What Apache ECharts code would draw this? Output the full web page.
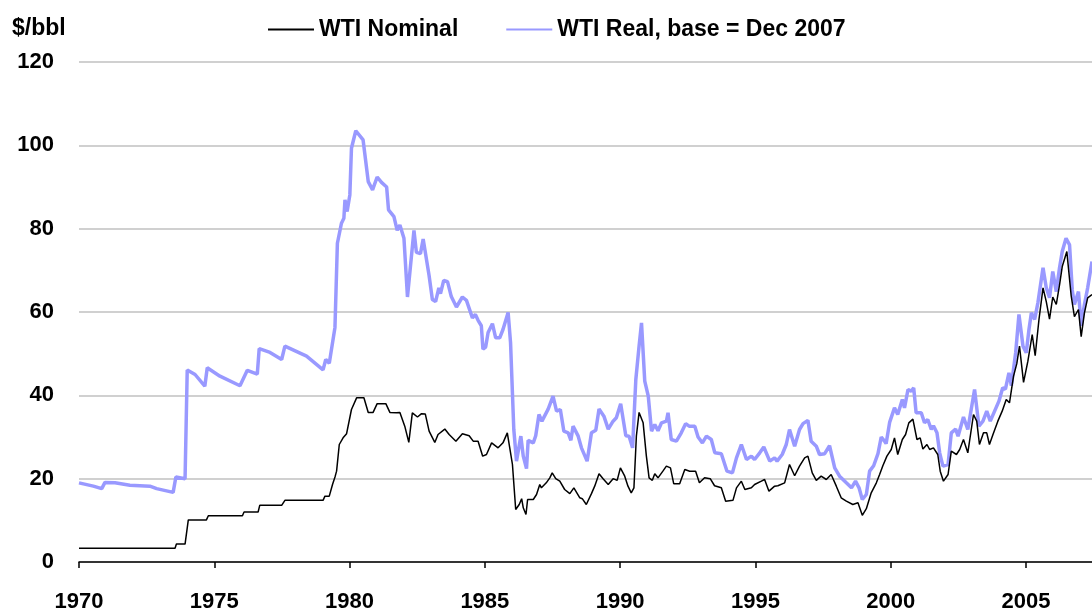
<!DOCTYPE html>
<html>
<head>
<meta charset="utf-8">
<script src="https://cdn.jsdelivr.net/npm/echarts@6/dist/echarts.min.js"></script>
<style>
  html, body { margin: 0; padding: 0; background: #fff; }
  #chart { width: 1092px; height: 613px; }
</style>
</head>
<body>
<div id="chart"></div>
<script>
// values, [decimal year, $/bbl]
const nominalPoints = [
  [1970.00,3.3],[1973.55,3.3],[1973.60,4.3],[1973.92,4.3],[1974.04,10.1],[1974.71,10.1],[1974.78,11.1],
  [1976.04,11.1],[1976.10,12.0],[1976.62,12.0],[1976.68,13.6],[1977.49,13.6],[1977.61,14.8],[1979.02,14.8],
  [1979.09,15.8],[1979.25,15.8],[1979.37,18.6],[1979.47,20.6],[1979.52,21.8],[1979.62,28.2],[1979.76,29.8],
  [1979.89,30.8],[1979.95,30.5],[1980.07,36.6],[1980.26,39.4],[1980.53,39.4],[1980.69,35.9],[1980.87,35.9],
  [1981.02,38.0],[1981.34,38.0],[1981.49,35.9],[1981.73,35.8],[1981.86,35.9],[1982.04,32.6],[1982.19,28.7],
  [1982.32,35.8],[1982.51,34.8],[1982.66,35.6],[1982.80,35.5],[1982.94,31.4],[1983.15,28.7],[1983.27,30.6],
  [1983.52,31.9],[1983.68,30.6],[1983.93,29.0],[1984.17,30.8],[1984.42,30.3],[1984.57,29.0],[1984.75,29.0],
  [1984.92,25.4],[1985.06,25.8],[1985.25,28.6],[1985.49,27.4],[1985.67,28.6],[1985.83,31.0],[1985.92,27.4],
  [1986.02,23.4],[1986.14,12.6],[1986.27,13.8],[1986.36,15.2],[1986.42,13.0],[1986.52,11.4],[1986.58,15.0],
  [1986.79,15.0],[1986.91,16.2],[1987.03,18.6],[1987.09,17.8],[1987.27,19.0],[1987.40,20.2],[1987.49,21.4],
  [1987.62,20.0],[1987.77,19.4],[1987.95,17.4],[1988.14,16.4],[1988.29,17.8],[1988.51,15.4],[1988.60,15.2],
  [1988.75,13.8],[1988.94,16.4],[1989.06,18.2],[1989.22,21.2],[1989.37,20.0],[1989.56,18.6],[1989.74,20.0],
  [1989.89,19.6],[1990.01,22.6],[1990.17,20.6],[1990.29,18.2],[1990.41,16.6],[1990.51,17.8],[1990.60,30.2],
  [1990.70,35.9],[1990.85,33.4],[1990.97,25.4],[1991.07,20.2],[1991.19,19.6],[1991.28,21.2],[1991.40,20.2],
  [1991.58,21.8],[1991.71,23.0],[1991.86,22.6],[1991.98,18.8],[1992.20,18.8],[1992.39,22.2],[1992.57,21.8],
  [1992.79,21.8],[1992.93,19.0],[1993.12,20.2],[1993.33,20.0],[1993.49,18.3],[1993.74,17.8],[1993.90,14.6],
  [1994.17,14.8],[1994.30,17.8],[1994.48,19.4],[1994.61,17.4],[1994.85,17.8],[1994.97,18.6],[1995.22,19.4],
  [1995.34,19.8],[1995.50,17.0],[1995.71,18.2],[1995.83,18.3],[1996.08,19.0],[1996.26,23.4],[1996.45,20.7],
  [1996.63,23.0],[1996.82,25.0],[1996.94,25.4],[1997.10,21.4],[1997.25,19.6],[1997.43,20.6],[1997.62,19.8],
  [1997.80,21.0],[1997.99,18.2],[1998.17,15.4],[1998.36,14.6],[1998.60,13.8],[1998.79,14.2],[1998.95,11.2],
  [1999.10,12.8],[1999.28,16.6],[1999.47,19.0],[1999.59,21.0],[1999.71,23.1],[1999.86,25.4],[2000.02,27.0],
  [2000.14,29.8],[2000.26,25.8],[2000.43,29.4],[2000.55,30.6],[2000.67,33.4],[2000.82,34.3],[2000.97,29.4],
  [2001.09,29.8],[2001.19,27.1],[2001.34,28.2],[2001.44,27.0],[2001.58,27.4],[2001.74,25.8],[2001.83,21.8],
  [2001.95,19.4],[2002.12,21.0],[2002.24,26.6],[2002.43,25.8],[2002.55,27.0],[2002.69,29.4],[2002.85,26.2],
  [2003.06,35.4],[2003.18,33.8],[2003.28,28.2],[2003.43,31.0],[2003.55,31.0],[2003.65,28.2],[2003.78,30.6],
  [2003.96,33.8],[2004.12,36.2],[2004.27,39.0],[2004.39,38.2],[2004.54,44.6],[2004.66,47.6],[2004.76,51.8],
  [2004.91,43.1],[2005.07,48.2],[2005.23,54.6],[2005.34,49.5],[2005.48,58.2],[2005.63,65.8],[2005.75,62.5],
  [2005.87,58.3],[2005.99,63.6],[2006.12,61.8],[2006.24,66.5],[2006.34,70.9],[2006.51,74.5],[2006.67,63.9],
  [2006.79,58.9],[2006.94,60.6],[2007.04,54.1],[2007.16,59.8],[2007.28,63.4],[2007.44,64.2]
];

const realPoints = [
  [1970.00,19.0],[1970.53,18.2],[1970.84,17.6],[1970.96,19.1],[1971.33,19.0],[1971.88,18.4],[1972.62,18.2],
  [1972.87,17.6],[1973.48,16.7],[1973.58,20.4],[1973.92,20.0],[1974.00,46.1],[1974.29,45.0],[1974.65,42.2],
  [1974.74,46.6],[1975.21,44.6],[1975.95,42.3],[1976.22,46.0],[1976.59,45.1],[1976.66,51.2],[1977.06,50.3],
  [1977.49,48.6],[1977.61,51.8],[1978.41,49.4],[1979.02,46.1],[1979.12,48.6],[1979.25,47.7],[1979.46,56.3],
  [1979.55,76.5],[1979.70,81.3],[1979.79,82.5],[1979.83,86.9],[1979.91,84.1],[1980.01,88.1],[1980.07,99.3],
  [1980.23,103.5],[1980.50,101.3],[1980.69,91.3],[1980.85,89.3],[1981.02,92.4],[1981.18,91.1],[1981.37,90.0],
  [1981.44,84.5],[1981.64,82.9],[1981.76,79.6],[1981.86,80.9],[1982.01,77.7],[1982.14,63.6],[1982.38,79.6],
  [1982.47,74.3],[1982.62,74.0],[1982.72,77.5],[1982.94,68.7],[1983.06,63.0],[1983.18,62.5],[1983.30,65.8],
  [1983.36,64.4],[1983.48,67.6],[1983.62,67.3],[1983.76,63.7],[1983.95,61.2],[1984.17,63.6],[1984.32,62.8],
  [1984.54,58.6],[1984.65,59.4],[1984.75,58.0],[1984.87,56.7],[1984.93,51.1],[1985.03,51.6],[1985.12,55.1],
  [1985.28,57.2],[1985.40,53.8],[1985.55,53.8],[1985.67,55.8],[1985.86,59.9],[1985.95,52.6],[1986.07,31.8],
  [1986.17,24.2],[1986.33,30.2],[1986.42,25.4],[1986.54,22.4],[1986.60,29.2],[1986.79,28.6],[1986.88,30.3],
  [1987.00,35.4],[1987.11,33.8],[1987.34,36.7],[1987.52,39.8],[1987.65,36.2],[1987.79,36.6],[1987.92,31.4],
  [1988.08,31.0],[1988.18,29.2],[1988.26,32.6],[1988.45,30.2],[1988.57,27.4],[1988.78,24.2],[1988.94,31.0],
  [1989.10,31.6],[1989.22,36.7],[1989.40,35.0],[1989.56,31.9],[1989.74,33.8],[1989.86,34.6],[1990.02,38.0],
  [1990.21,30.3],[1990.33,30.2],[1990.46,27.4],[1990.58,43.8],[1990.70,51.8],[1990.79,57.4],[1990.91,43.4],
  [1991.04,39.8],[1991.16,31.4],[1991.28,33.0],[1991.40,31.5],[1991.53,33.4],[1991.71,33.8],[1991.77,35.8],
  [1991.89,29.4],[1992.08,29.0],[1992.26,31.0],[1992.42,33.2],[1992.55,32.6],[1992.76,32.6],[1992.88,30.0],
  [1993.04,28.6],[1993.19,30.2],[1993.37,29.4],[1993.50,26.2],[1993.74,26.0],[1993.95,21.8],[1994.15,21.4],
  [1994.30,25.0],[1994.48,28.2],[1994.67,24.6],[1994.85,25.4],[1994.97,24.6],[1995.16,26.2],[1995.31,27.6],
  [1995.53,24.2],[1995.71,25.0],[1995.80,24.2],[1995.99,25.8],[1996.14,28.2],[1996.26,31.8],[1996.45,27.8],
  [1996.63,31.8],[1996.76,33.2],[1996.94,34.0],[1997.06,29.0],[1997.25,27.8],[1997.37,25.8],[1997.56,26.0],
  [1997.74,27.9],[1997.93,22.6],[1998.11,20.6],[1998.36,19.0],[1998.55,17.8],[1998.70,19.4],[1998.83,17.8],
  [1998.95,15.0],[1999.10,16.2],[1999.22,21.8],[1999.37,23.1],[1999.53,26.0],[1999.65,30.0],[1999.77,29.0],
  [1999.83,28.4],[1999.96,33.5],[2000.14,37.0],[2000.26,35.4],[2000.43,39.0],[2000.51,37.0],[2000.64,41.4],
  [2000.76,41.0],[2000.85,41.8],[2000.94,35.8],[2001.13,35.8],[2001.25,33.4],[2001.37,34.2],[2001.50,31.8],
  [2001.58,32.7],[2001.71,31.0],[2001.81,26.2],[2001.93,23.0],[2002.12,23.4],[2002.24,31.0],[2002.40,31.9],
  [2002.49,30.2],[2002.69,34.8],[2002.85,31.8],[2003.10,41.4],[2003.26,32.6],[2003.41,33.8],[2003.55,36.2],
  [2003.68,33.8],[2003.84,36.2],[2004.00,38.6],[2004.14,41.8],[2004.24,41.5],[2004.37,45.4],[2004.46,42.3],
  [2004.62,50.3],[2004.74,59.4],[2004.89,51.8],[2005.01,50.2],[2005.11,55.8],[2005.20,59.8],[2005.32,58.2],
  [2005.44,62.2],[2005.63,70.6],[2005.75,65.8],[2005.87,63.4],[2005.99,69.7],[2006.12,64.9],[2006.24,70.6],
  [2006.34,74.5],[2006.48,77.7],[2006.61,76.1],[2006.71,65.3],[2006.79,61.8],[2006.94,64.9],[2007.04,56.7],
  [2007.16,61.8],[2007.28,65.8],[2007.44,72.1]
];

const seriesNames = ['WTI Nominal', 'WTI Real, base = Dec 2007'];
const unitLabel = '$/bbl';

const font = 'Liberation Sans, Arial, sans-serif';
const chart = echarts.init(document.getElementById('chart'));

chart.setOption({
  animation: false,
  backgroundColor: '#ffffff',
  title: {
    text: unitLabel,
    left: 12,
    top: 17,
    padding: 0,
    textStyle: { fontFamily: font, fontWeight: 'bold', fontSize: 23, color: '#000' }
  },
  legend: {
    left: 267,
    top: 18,
    padding: 0,
    itemWidth: 46,
    itemHeight: 14,
    itemGap: 47,
    // hide the marker dot, keep only the line
    itemStyle: { opacity: 0 },
    textStyle: { fontFamily: font, fontWeight: 'bold', fontSize: 23, color: '#000' },
    data: seriesNames
  },
  grid: {
    left: 79,
    right: 0,
    top: 62,
    bottom: 50
  },
  xAxis: {
    type: 'value',
    min: 1970,
    max: 2007.44,
    interval: 5,
    axisLine: { show: true, lineStyle: { color: '#000', width: 1.5 } },
    axisTick: { show: true, length: 6, lineStyle: { color: '#000', width: 1.5 } },
    splitLine: { show: false },
    axisLabel: {
      margin: 29,
      showMaxLabel: false,
      fontFamily: font,
      fontWeight: 'bold',
      fontSize: 22,
      color: '#000',
      formatter: function (v) { return v % 5 === 0 ? String(v) : ''; }
    }
  },
  yAxis: {
    type: 'value',
    min: 0,
    max: 120,
    interval: 20,
    axisLine: { show: false },
    axisTick: { show: false },
    splitLine: { show: true, lineStyle: { color: '#c0c0c0', width: 1.5 } },
    axisLabel: {
      margin: 25,
      fontFamily: font,
      fontWeight: 'bold',
      fontSize: 22,
      color: '#000'
    }
  },
  series: [
    {
      name: seriesNames[0],
      type: 'line',
      data: nominalPoints,
      showSymbol: false,
      symbol: 'none',
      z: 4,
      lineStyle: { color: '#000000', width: 1.5 },
      itemStyle: { color: '#000000' }
    },
    {
      name: seriesNames[1],
      type: 'line',
      data: realPoints,
      showSymbol: false,
      symbol: 'none',
      z: 3,
      lineStyle: { color: '#9999ff', width: 3.5 },
      itemStyle: { color: '#9999ff' }
    }
  ]
});
</script>
</body>
</html>
